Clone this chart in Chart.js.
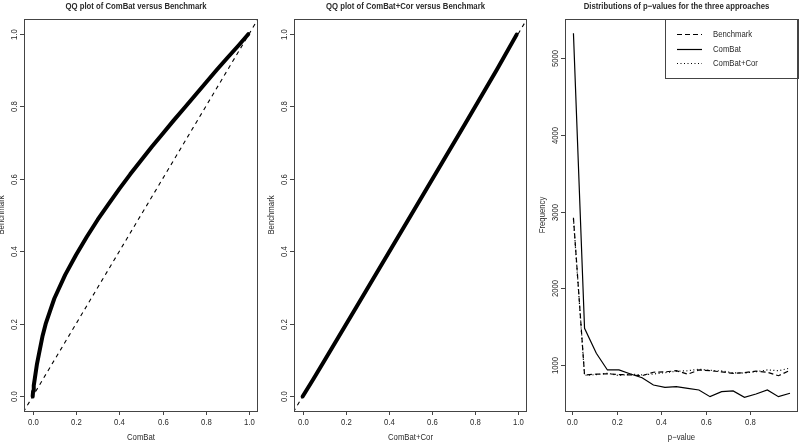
<!DOCTYPE html>
<html>
<head>
    <title>QQ plots and p-value distributions</title>
    <meta charset="utf-8">
    <script src="https://cdn.jsdelivr.net/npm/chart.js"></script>
    <style>
        body { margin: 0; background: #fff; }
        canvas { position: absolute; top: 0; }
    </style>
</head>
<body>
    <canvas id="qq1" width="266" height="443" style="left:0px"></canvas>
    <canvas id="qq2" width="266" height="443" style="left:266px"></canvas>
    <canvas id="hist" width="267" height="443" style="left:532px"></canvas>
    <script>
        // panel 1 : quantiles of ComBat p-values against benchmark
        var combatQ = [0, 0.002, 0.005, 0.01, 0.02, 0.03, 0.045, 0.06, 0.08, 0.1, 0.15, 0.2, 0.25, 0.3, 0.35, 0.4, 0.45, 0.5, 0.55, 0.6, 0.65, 0.7, 0.75, 0.8, 0.85, 0.9, 0.95, 0.995];
        var benchQ1 = [0, 0.015, 0.03, 0.05, 0.09, 0.12, 0.165, 0.2, 0.235, 0.27, 0.335, 0.39, 0.44, 0.487, 0.53, 0.572, 0.612, 0.65, 0.688, 0.724, 0.76, 0.795, 0.83, 0.865, 0.9, 0.934, 0.967, 0.998];

        // panel 2 : ComBat+Cor against benchmark
        var combatCorQ = [0, 0.05, 0.1, 0.25, 0.5, 0.75, 0.9, 0.992];
        var benchQ2 = [0, 0.048, 0.098, 0.247, 0.497, 0.748, 0.9, 0.997];

        // identity line
        var diagonal = [-0.1, 1.1];

        // panel 3 : p-value histogram counts
        var pvalMids = [0.005, 0.055, 0.108, 0.158, 0.21, 0.262, 0.314, 0.365, 0.417, 0.468, 0.52, 0.57, 0.62, 0.672, 0.724, 0.775, 0.827, 0.878, 0.928, 0.98];
        var benchFreq = [2920, 870, 880, 885, 875, 870, 860, 905, 910, 925, 880, 935, 925, 910, 890, 900, 920, 905, 860, 930];
        var combatFreq = [5325, 1478, 1152, 935, 935, 883, 834, 739, 709, 717, 696, 674, 587, 652, 661, 579, 622, 674, 587, 631];
        var combatCorFreq = [2900, 865, 875, 892, 862, 880, 872, 882, 900, 918, 925, 945, 930, 922, 898, 895, 912, 935, 925, 960];

        var qqTicks = [0, 0.2, 0.4, 0.6, 0.8, 1.0];
        var pTicks = [0, 0.2, 0.4, 0.6, 0.8];
        var freqTicks = [1000, 2000, 3000, 4000, 5000];

        var FONT = "'Liberation Sans', Arial, sans-serif";
        var INK = '#2a2a2a';
        var SQUEEZE = 0.86;   // R's narrow helvetica look

        function pts(xs, ys) {
            return xs.map(function (x, i) { return { x: x, y: ys[i] }; });
        }

        function text(ctx, s, x, y, rot) {
            ctx.save();
            ctx.translate(x, y);
            if (rot) ctx.rotate(rot);
            ctx.scale(SQUEEZE, 1);
            ctx.fillText(s, 0, 0);
            ctx.restore();
        }

        // R-like frame, ticks, labels, titles, optional legend
        var rFrame = {
            id: 'rFrame',
            afterDraw: function (chart, args, o) {
                var ctx = chart.ctx, a = chart.chartArea;
                var x = chart.scales.x, y = chart.scales.y;
                ctx.save();
                ctx.strokeStyle = '#444';
                ctx.lineWidth = 1;
                ctx.strokeRect(Math.round(a.left) + 0.5, Math.round(a.top) + 0.5,
                    Math.round(a.right - a.left) - 1, Math.round(a.bottom - a.top));
                ctx.fillStyle = INK;
                ctx.textAlign = 'center';
                ctx.textBaseline = 'middle';

                ctx.font = 'bold 9px ' + FONT;
                text(ctx, o.title, (a.left + a.right) / 2 - 5, 7);

                ctx.font = '9px ' + FONT;
                o.yTicks.forEach(function (v) {
                    var py = Math.round(y.getPixelForValue(v)) + 0.5;
                    ctx.beginPath();
                    ctx.moveTo(a.left - 4, py);
                    ctx.lineTo(a.left, py);
                    ctx.stroke();
                    text(ctx, o.fmtY(v), a.left - 9, py, -Math.PI / 2);
                });
                o.xTicks.forEach(function (v) {
                    var px = Math.round(x.getPixelForValue(v)) + 0.5;
                    ctx.beginPath();
                    ctx.moveTo(px, a.bottom);
                    ctx.lineTo(px, a.bottom + 4);
                    ctx.stroke();
                    text(ctx, v.toFixed(1), px, 423);
                });
                text(ctx, o.yTitle, a.left - 22, (a.top + a.bottom) / 2, -Math.PI / 2);
                text(ctx, o.xTitle, (a.left + a.right) / 2, 438);

                if (o.legend) {
                    var lw = 133, lh = 59;
                    ctx.strokeRect(Math.round(a.right - lw) + 0.5, Math.round(a.top) + 0.5, lw, lh);
                    ctx.textAlign = 'left';
                    chart.data.datasets.forEach(function (ds, i) {
                        var ly = Math.round(a.top + 15 + i * 14.5) + 0.5;
                        ctx.save();
                        ctx.strokeStyle = '#000';
                        ctx.lineWidth = ds.borderWidth;
                        ctx.setLineDash(ds.borderDash || []);
                        ctx.beginPath();
                        ctx.moveTo(a.right - 121, ly);
                        ctx.lineTo(a.right - 96, ly);
                        ctx.stroke();
                        ctx.restore();
                        text(ctx, ds.label, a.right - 85, ly);
                    });
                }
                ctx.restore();
            }
        };

        function makeChart(id, datasets, opt) {
            return new Chart(document.getElementById(id), {
                type: 'line',
                data: { datasets: datasets },
                plugins: [rFrame],
                options: {
                    responsive: false,
                    animation: false,
                    layout: { padding: { top: 19, right: opt.padRight, left: 0, bottom: 0 } },
                    elements: { point: { radius: 0 }, line: { tension: 0 } },
                    plugins: {
                        legend: { display: false },
                        tooltip: { enabled: false },
                        title: { display: false },
                        rFrame: opt.frame
                    },
                    scales: {
                        x: {
                            type: 'linear',
                            min: opt.xMin, max: opt.xMax,
                            afterFit: function (s) { s.height = 32; },
                            grid: { display: false },
                            border: { display: false },
                            ticks: { display: false }
                        },
                        y: {
                            type: 'linear',
                            min: opt.yMin, max: opt.yMax,
                            afterFit: function (s) { s.width = opt.yWidth; },
                            grid: { display: false },
                            border: { display: false },
                            ticks: { display: false }
                        }
                    }
                }
            });
        }

        function f1(v) { return v.toFixed(1); }
        function f0(v) { return String(Math.round(v)); }

        makeChart('qq1', [
            { data: pts(combatQ, benchQ1), borderColor: '#000', borderWidth: 4, borderCapStyle: 'round', borderJoinStyle: 'round' },
            { data: pts(diagonal, diagonal), borderColor: '#000', borderWidth: 1.1, borderDash: [4, 4] }
        ], {
            padRight: 8, yWidth: 24,
            xMin: -0.04, xMax: 1.04, yMin: -0.04, yMax: 1.04,
            frame: {
                title: 'QQ plot of ComBat versus Benchmark',
                xTicks: qqTicks, yTicks: qqTicks, fmtY: f1,
                yTitle: 'Benchmark', xTitle: 'ComBat'
            }
        });

        makeChart('qq2', [
            { data: pts(combatCorQ, benchQ2), borderColor: '#000', borderWidth: 4, borderCapStyle: 'round', borderJoinStyle: 'round' },
            { data: pts(diagonal, diagonal), borderColor: '#000', borderWidth: 1.1, borderDash: [4, 4] }
        ], {
            padRight: 5, yWidth: 28,
            xMin: -0.04, xMax: 1.04, yMin: -0.04, yMax: 1.04,
            frame: {
                title: 'QQ plot of ComBat+Cor versus Benchmark',
                xTicks: qqTicks, yTicks: qqTicks, fmtY: f1,
                yTitle: 'Benchmark', xTitle: 'ComBat+Cor'
            }
        });

        makeChart('hist', [
            { label: 'Benchmark', data: pts(pvalMids, benchFreq), borderColor: '#000', borderWidth: 1.2, borderDash: [5, 3] },
            { label: 'ComBat', data: pts(pvalMids, combatFreq), borderColor: '#000', borderWidth: 1.2 },
            { label: 'ComBat+Cor', data: pts(pvalMids, combatCorFreq), borderColor: '#000', borderWidth: 1.2, borderDash: [1, 2.5] }
        ], {
            padRight: 1, yWidth: 33,
            xMin: -0.033, xMax: 1.016, yMin: 400, yMax: 5510,
            frame: {
                title: 'Distributions of p\u2212values for the three approaches',
                xTicks: pTicks, yTicks: freqTicks, fmtY: f0,
                yTitle: 'Frequency', xTitle: 'p\u2212value', legend: true
            }
        });
    </script>
</body>
</html>
